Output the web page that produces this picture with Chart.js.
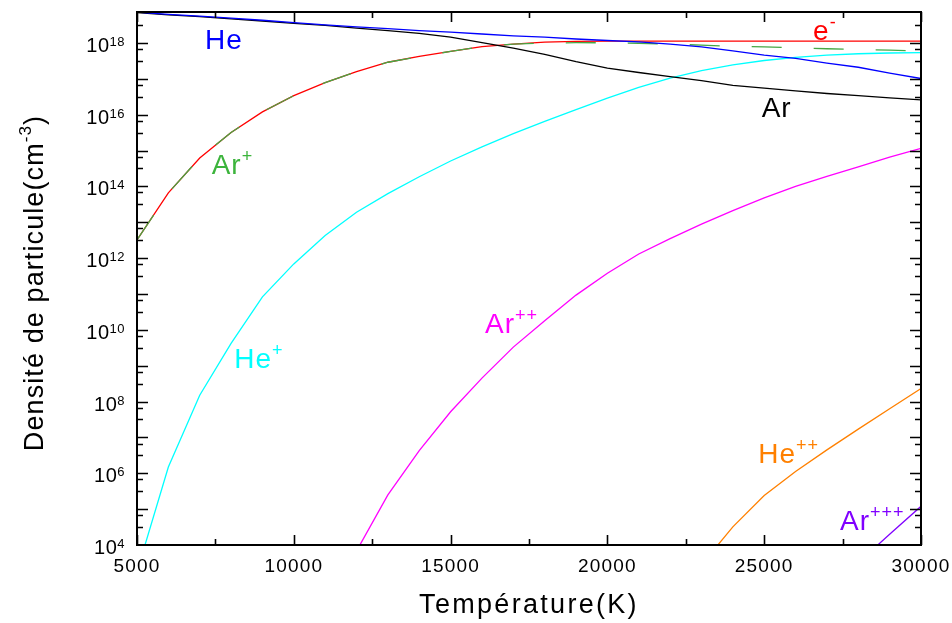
<!DOCTYPE html>
<html>
<head>
<meta charset="utf-8">
<script src="https://cdn.jsdelivr.net/npm/chart.js@4"></script>
<style>
  html, body { margin: 0; padding: 0; background: #fff; }
  #wrap { width: 952px; height: 623px; }
</style>
</head>
<body>
<div id="wrap"><canvas id="chart" width="952" height="623"></canvas></div>
<script>
// temperatures (K) and densities (cm-3)
const temperatures = [5000, 6000, 7000, 8000, 9000, 10000, 11000, 12000, 13000, 14000, 15000, 16000, 17000,
  18000, 19000, 20000, 21000, 22000, 23000, 24000, 25000, 26000, 27000, 28000, 29000, 30000];

const heDensity = [7.2e18, 6.3e18, 5.6e18, 4.9e18, 4.3e18, 3.7e18, 3.2e18, 2.8e18, 2.5e18, 2.2e18, 2.0e18, 1.78e18, 1.58e18,
  1.45e18, 1.29e18, 1.17e18, 1.07e18, 9.3e17, 7.8e17, 6.0e17, 4.6e17, 3.7e17, 2.75e17, 2.1e17, 1.45e17, 1.02e17];
const arDensity = [7.0e18, 6.1e18, 5.4e18, 4.7e18, 4.1e18, 3.5e18, 3.1e18, 2.6e18, 2.2e18, 1.86e18, 1.45e18, 1.02e18, 7.2e17,
  4.8e17, 3.0e17, 2.0e17, 1.5e17, 1.15e17, 8.9e16, 6.6e16, 5.5e16, 4.6e16, 3.9e16, 3.4e16, 2.95e16, 2.6e16];
const electronDensity = [3.2e12, 6.6e13, 6.2e14, 3.2e15, 1.2e16, 3.4e16, 7.8e16, 1.58e17, 2.9e17, 4.2e17, 5.8e17, 7.9e17, 9.3e17,
  1.05e18, 1.1e18, 1.12e18, 1.12e18, 1.12e18, 1.12e18, 1.12e18, 1.12e18, 1.12e18, 1.12e18, 1.12e18, 1.12e18, 1.12e18];
const arPlusDensity = [3.2e12, 6.6e13, 6.2e14, 3.2e15, 1.2e16, 3.4e16, 7.8e16, 1.58e17, 2.9e17, 4.2e17, 5.8e17, 7.9e17, 9.3e17,
  9.9e17, 1.02e18, 1.01e18, 9.8e17, 9.3e17, 8.7e17, 8.1e17, 7.8e17, 7.4e17, 6.9e17, 6.6e17, 6.3e17, 6.0e17];
const hePlusDensity = [1.8e3, 1.5e6, 1.5e8, 4.2e9, 8.3e10, 6.9e11, 4.3e12, 1.9e13, 6.3e13, 1.86e14, 5.1e14, 1.26e15, 2.95e15,
  6.5e15, 1.38e16, 2.9e16, 5.75e16, 1.05e17, 1.7e17, 2.45e17, 3.24e17, 3.98e17, 4.57e17, 5.0e17, 5.25e17, 5.37e17];
const arPlus2Density = [null, null, null, null, null, null, null, 6.8e3, 2.5e5, 4.3e6, 5.2e7, 4.5e8, 3.3e9,
  1.8e10, 9.3e10, 3.8e11, 1.3e12, 3.5e12, 8.9e12, 2.1e13, 4.8e13, 1.0e14, 1.9e14, 3.5e14, 6.6e14, 1.15e15];
const hePlus2Density = [null, null, null, null, null, null, null, null, null, null, null, null, null,
  null, null, null, null, null, 2.8e3, 3.2e4, 2.4e5, 1.12e6, 4.5e6, 1.7e7, 6.3e7, 2.3e8];
const arPlus3Density = [null, null, null, null, null, null, null, null, null, null, null, null, null,
  null, null, null, null, null, null, null, null, null, null, 3.2e3, 2.0e4, 1.2e5];

const xTickLabels = [5000, 10000, 15000, 20000, 25000, 30000];
const yTickExponents = [4, 6, 8, 10, 12, 14, 16, 18];

// curve labels: text, superscript, colour, anchor (temperature, density)
const curveLabels = [
  { text: 'He', sup: '', color: '#0000ff', t: 7170, n: 6.8e17 },
  { text: 'e', sup: '-', color: '#ff0000', t: 26560, n: 1.2e18 },
  { text: 'Ar', sup: '', color: '#000000', t: 24920, n: 8.7e15 },
  { text: 'Ar', sup: '+', color: '#3cb43c', t: 7380, n: 2.2e14 },
  { text: 'He', sup: '+', color: '#00ffff', t: 8100, n: 8.5e8 },
  { text: 'Ar', sup: '++', color: '#ff00ff', t: 16100, n: 8.3e9 },
  { text: 'He', sup: '++', color: '#ff8000', t: 24810, n: 1.9e6 },
  { text: 'Ar', sup: '+++', color: '#8000ff', t: 27420, n: 2.6e4 }
];

function points(values) {
  return temperatures.map((t, i) => ({ x: t, y: values[i] })).filter(p => p.y !== null);
}

const FONT = '"Liberation Sans", Arial, sans-serif';

const framePlugin = {
  id: 'frame',
  afterDraw(chart) {
    const { ctx, chartArea: a, scales: { x, y } } = chart;
    ctx.save();
    ctx.strokeStyle = '#000';
    ctx.lineWidth = 1.6;

    // x ticks, inward on bottom and top
    ctx.beginPath();
    for (let v = 5000; v <= 30000; v += 2500) {
      const px = Math.round(x.getPixelForValue(v)) + 0.5;
      const len = v % 5000 === 0 ? 10 : 6;
      ctx.moveTo(px, a.bottom); ctx.lineTo(px, a.bottom - len);
      ctx.moveTo(px, a.top); ctx.lineTo(px, a.top + len);
    }
    // y ticks, inward on left and right
    const yTick = (v, len) => {
      const py = y.getPixelForValue(v);
      if (py < a.top + 3 || py > a.bottom - 1) return;
      const ry = Math.round(py) + 0.5;
      ctx.moveTo(a.left, ry); ctx.lineTo(a.left + len, ry);
      ctx.moveTo(a.right, ry); ctx.lineTo(a.right - len, ry);
    };
    for (let e = 4; e <= 19; e++) {
      yTick(Math.pow(10, e), 11);
      yTick(Math.pow(10, e + 0.5), 6);
      yTick(Math.pow(10, e - 0.17), 6);
    }
    ctx.stroke();

    // frame
    ctx.lineWidth = 2;
    ctx.strokeRect(a.left, a.top, a.right - a.left, a.bottom - a.top);

    ctx.fillStyle = '#000';
    // x tick labels
    ctx.font = '19px ' + FONT;
    ctx.letterSpacing = '1.2px';
    ctx.textAlign = 'center';
    ctx.textBaseline = 'alphabetic';
    xTickLabels.forEach(v => {
      ctx.fillText(String(v), x.getPixelForValue(v), a.bottom + 27);
    });

    // y tick labels 10^n
    ctx.textAlign = 'left';
    ctx.letterSpacing = '0.5px';
    yTickExponents.forEach(e => {
      const py = y.getPixelForValue(Math.pow(10, e));
      ctx.font = '13px ' + FONT;
      const ew = ctx.measureText(String(e)).width;
      ctx.font = '20px ' + FONT;
      const bw = ctx.measureText('10').width;
      const right = a.left - 12;
      const x0 = right - ew - bw;
      ctx.fillText('10', x0, py + 9);
      ctx.font = '13px ' + FONT;
      ctx.fillText(String(e), x0 + bw, py + 3);
    });

    // axis titles
    ctx.font = '27px ' + FONT;
    ctx.letterSpacing = '2.3px';
    ctx.textAlign = 'center';
    ctx.fillText('Température(K)', (a.left + a.right) / 2, 613);

    ctx.save();
    ctx.translate(43, 283);
    ctx.rotate(-Math.PI / 2);
    ctx.textAlign = 'left';
    ctx.letterSpacing = '1.1px';
    ctx.font = '27px ' + FONT;
    const part1 = 'Densité de particule(cm';
    const w1 = ctx.measureText(part1).width;
    ctx.font = '17px ' + FONT;
    const w2 = ctx.measureText('-3').width;
    ctx.font = '27px ' + FONT;
    const w3 = ctx.measureText(')').width;
    let sx = -(w1 + w2 + w3) / 2;
    ctx.fillText(part1, sx, 0);
    sx += w1;
    ctx.font = '17px ' + FONT;
    ctx.fillText('-3', sx, -12);
    sx += w2;
    ctx.font = '27px ' + FONT;
    ctx.fillText(')', sx, 0);
    ctx.restore();

    // curve labels
    ctx.textAlign = 'left';
    ctx.letterSpacing = '1px';
    curveLabels.forEach(l => {
      const px = x.getPixelForValue(l.t);
      const py = y.getPixelForValue(l.n);
      ctx.fillStyle = l.color;
      ctx.font = '28px ' + FONT;
      ctx.fillText(l.text, px, py);
      const w = ctx.measureText(l.text).width;
      if (l.sup) {
        ctx.font = '18px ' + FONT;
        ctx.fillText(l.sup, px + w, py - 12);
      }
    });
    ctx.restore();
  }
};

new Chart(document.getElementById('chart'), {
  type: 'line',
  data: {
    datasets: [
      { label: 'He', data: points(heDensity), borderColor: '#0000ff' },
      { label: 'Ar', data: points(arDensity), borderColor: '#000000' },
      { label: 'Ar+', data: points(arPlusDensity), borderColor: '#45a845', borderDash: [30, 32] },
      { label: 'e-', data: points(electronDensity), borderColor: '#ff0000' },
      { label: 'He+', data: points(hePlusDensity), borderColor: '#00ffff' },
      { label: 'Ar++', data: points(arPlus2Density), borderColor: '#ff00ff' },
      { label: 'He++', data: points(hePlus2Density), borderColor: '#ff8000' },
      { label: 'Ar+++', data: points(arPlus3Density), borderColor: '#8000ff' }
    ]
  },
  options: {
    responsive: false,
    animation: false,
    devicePixelRatio: 1,
    layout: { padding: { left: 137, right: 31, top: 12, bottom: 78 } },
    plugins: {
      legend: { display: false },
      tooltip: { enabled: false }
    },
    elements: {
      point: { radius: 0 },
      line: { tension: 0, borderWidth: 1.3, fill: false }
    },
    scales: {
      x: { type: 'linear', min: 5000, max: 30000, display: false },
      y: { type: 'logarithmic', min: 1e4, max: 7.3e18, display: false }
    }
  },
  plugins: [framePlugin]
});
</script>
</body>
</html>
